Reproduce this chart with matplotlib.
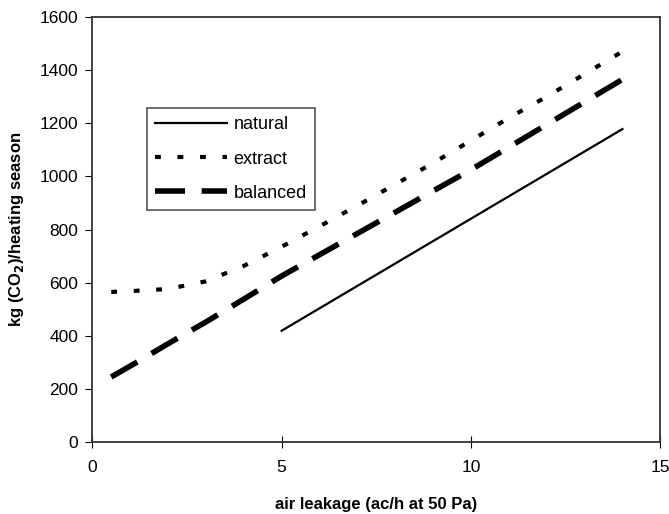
import matplotlib
matplotlib.use('Agg')
import matplotlib.pyplot as plt

plt.rcParams['font.family'] = ['Liberation Sans', 'DejaVu Sans']

# air leakage (ac/h at 50 Pa)
x_natural = [5, 14]
y_natural = [419, 1178]

x_vent = [0.5, 1, 2, 3, 4, 5, 6, 7, 8, 9, 10, 11, 12, 13, 14]
y_extract = [565, 568, 576, 605, 663, 735, 812, 890, 970, 1050, 1135, 1220, 1300, 1385, 1470]
y_balanced = [245, 286, 370, 452, 538, 625, 705, 785, 865, 945, 1025, 1110, 1195, 1280, 1365]

xticks = [0, 5, 10, 15]
yticks = [0, 200, 400, 600, 800, 1000, 1200, 1400, 1600]

fig = plt.figure(figsize=(6.69, 5.14), dpi=100)
ax = fig.add_axes([0.138, 0.140, 0.849, 0.827])

ax.plot(x_natural, y_natural, color='black', lw=1.6, label='natural')
ax.plot(x_vent, y_extract, color='black', lw=3.0, dashes=(1.4, 4.0), label='extract')
ax.plot(x_vent, y_balanced, color='black', lw=4.0, dashes=(5.4, 3.0), label='balanced')

ax.set_xlim(0, 15)
ax.set_ylim(0, 1600)
ax.set_xticks(xticks)
ax.set_yticks(yticks)
ax.tick_params(axis='y', direction='out', length=5, labelsize=12.5, pad=5)
ax.tick_params(axis='x', direction='inout', length=8, labelsize=12.5, pad=9)
for s in ax.spines.values():
    s.set_linewidth(1.3)
    s.set_color('#333333')

ax.set_xlabel('air leakage (ac/h at 50 Pa)', fontsize=12, fontweight='bold', labelpad=16)
ax.set_ylabel('kg (CO$_\\mathbf{2}$)/heating season', fontsize=12, fontweight='bold', labelpad=10)

leg = ax.legend(loc='upper left', bbox_to_anchor=(0.096, 0.785), borderaxespad=0,
                fancybox=False, framealpha=1, edgecolor='#555555', fontsize=13,
                handlelength=4.0, handletextpad=0.35, labelspacing=0.95, borderpad=0.45)
leg.get_frame().set_linewidth(1.2)

fig.savefig('out.png', dpi=100)
